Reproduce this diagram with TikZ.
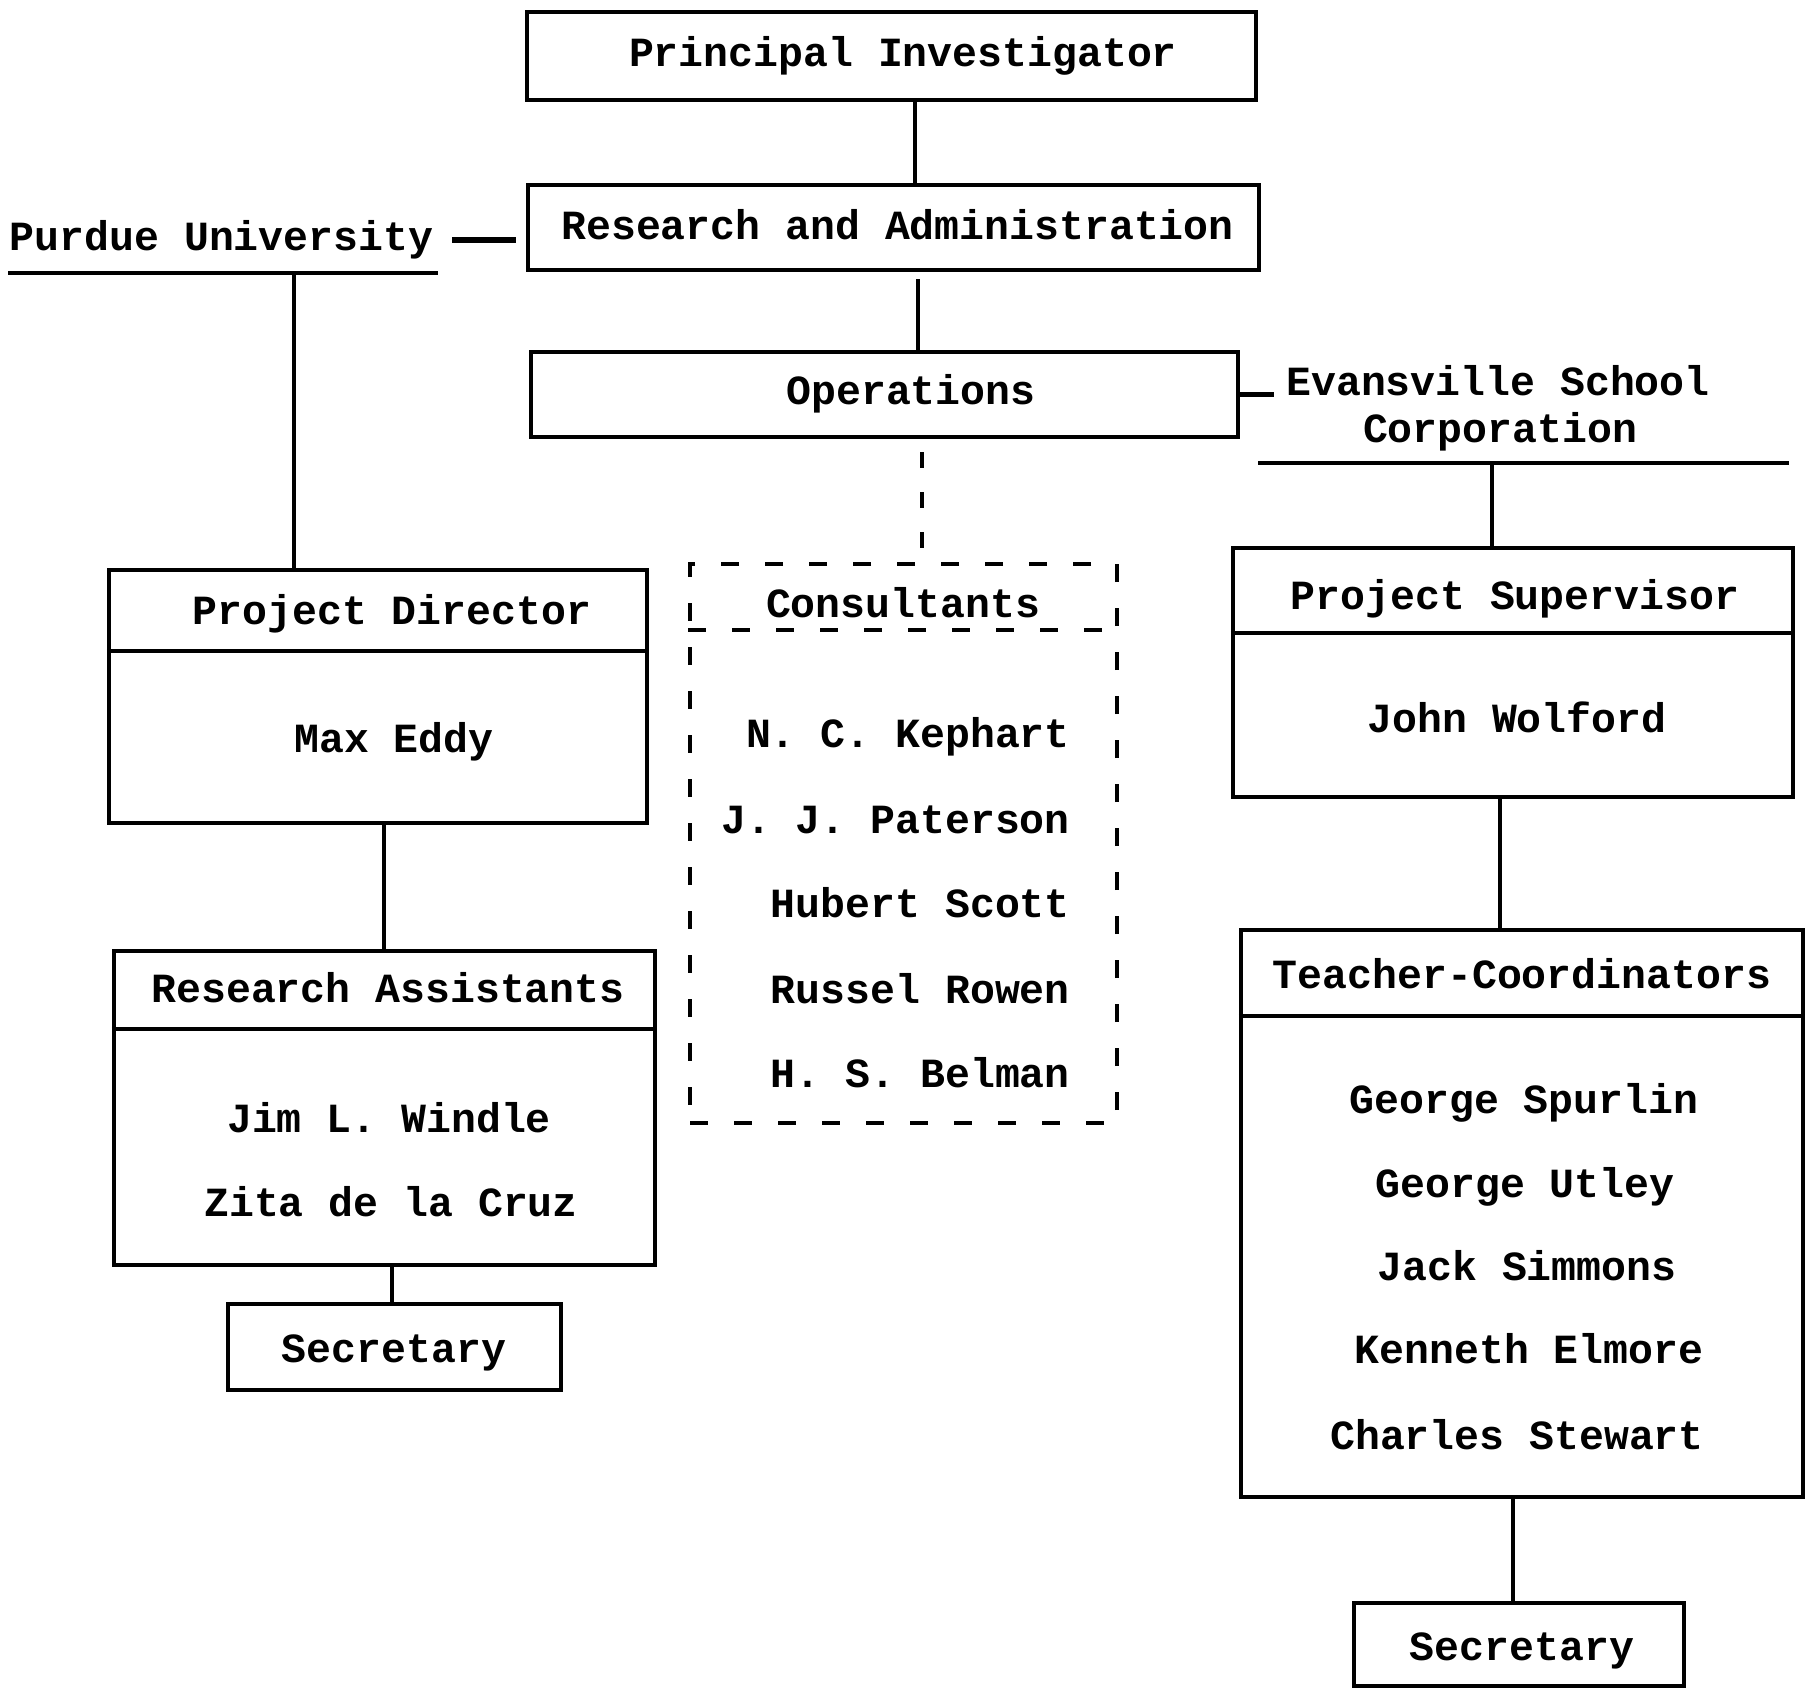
\documentclass[tikz,border=0pt]{standalone}
\usepackage{fontspec}
\newfontfamily\tw{Liberation Mono}
\begin{document}
\begin{tikzpicture}[x=1pt,y=-1pt,
  txt/.style={font=\tw\bfseries\fontsize{41.5}{49}\selectfont, inner sep=0pt, text height=0.6em, text depth=0pt, yshift=-9pt},
  box/.style={draw, line width=4.5pt, inner sep=0pt},
  conn/.style={line width=4pt},
  dconn/.style={line width=4pt, dash pattern=on 16pt off 24pt},
  dbox/.style={draw, line width=4pt, dash pattern=on 18pt off 26pt, inner sep=0pt}]
\fill[white] (0,0) rectangle (1810,1691);
\useasboundingbox (0,0) rectangle (1810,1691);

% top column
\node[box, minimum width=729pt, minimum height=88pt] (pi) at (891.5,56) {};
\node[txt] (pit) at (903,55) {Principal Investigator};
\node[box, minimum width=731pt, minimum height=85pt] (ra) at (893.5,227.5) {};
\node[txt] (rat) at (897.5,227) {Research and Administration};
\node[box, minimum width=707pt, minimum height=85pt] (ops) at (884.5,394.5) {};
\node[txt] (opst) at (911,392) {Operations};

% Purdue
\node[txt] (pu) at (221.5,238) {Purdue University};
\coordinate (pul1) at (8,273);
\coordinate (pul2) at (438,273);
\coordinate (puv) at (294,273);

% Evansville
\node[txt] (ev1) at (1498,383) {Evansville School};
\node[txt] (ev2) at (1500,430) {Corporation};
\coordinate (evl1) at (1258,463);
\coordinate (evl2) at (1789,463);
\coordinate (evv) at (1492,463);

% Project Director
\node[box, minimum width=538pt, minimum height=253pt] (pd) at (378,696.5) {};
\coordinate (pdd) at (0,651);
\node[txt] (pdt) at (392,612) {Project Director};
\node[txt] (pdn) at (394,740) {Max Eddy};

% Research Assistants
\node[box, minimum width=541pt, minimum height=314pt] (rab) at (384.5,1108) {};
\coordinate (rad) at (0,1029);
\node[txt] (rabt) at (388,990) {Research Assistants};
\node[txt] (ran1) at (389,1120) {Jim L. Windle};
\node[txt] (ran2) at (391,1204) {Zita de la Cruz};

% Secretary left
\node[box, minimum width=333pt, minimum height=86pt] (secl) at (394.5,1347) {};
\node[txt] (seclt) at (394,1350) {Secretary};

% Consultants
\node[dbox, minimum width=427pt, minimum height=559pt] (co) at (903.5,843.5) {};
\coordinate (cod) at (0,630);
\node[txt] (cot) at (903,605) {Consultants};
\node[txt, anchor=east] (co1) at (1070,735) {N. C. Kephart};
\node[txt, anchor=east] (co2) at (1070,821) {J. J. Paterson};
\node[txt, anchor=east] (co3) at (1070,905) {Hubert Scott};
\node[txt, anchor=east] (co4) at (1070,991) {Russel Rowen};
\node[txt, anchor=east] (co5) at (1070,1075) {H. S. Belman};

% Project Supervisor
\node[box, minimum width=560pt, minimum height=249pt] (ps) at (1513,672.5) {};
\coordinate (psd) at (0,633);
\node[txt] (pst) at (1515,597) {Project Supervisor};
\node[txt] (psn) at (1517,720) {John Wolford};

% Teacher-Coordinators
\node[box, minimum width=562pt, minimum height=567pt] (tc) at (1522,1213.5) {};
\coordinate (tcd) at (0,1016);
\node[txt] (tct) at (1522,976) {Teacher-Coordinators};
\node[txt] (tc1) at (1524,1101) {George Spurlin};
\node[txt] (tc2) at (1525,1185) {George Utley};
\node[txt] (tc3) at (1527,1268) {Jack Simmons};
\node[txt] (tc4) at (1529,1351) {Kenneth Elmore};
\node[txt] (tc5) at (1517,1437) {Charles Stewart};

% Secretary right
\node[box, minimum width=330pt, minimum height=83pt] (secr) at (1519,1644.5) {};
\node[txt] (secrt) at (1522,1648) {Secretary};

% dividers
\draw[line width=4pt] (pd.west |- pdd) -- (pd.east |- pdd);
\draw[line width=4pt] (rab.west |- rad) -- (rab.east |- rad);
\draw[line width=4pt] (ps.west |- psd) -- (ps.east |- psd);
\draw[line width=4pt] (tc.west |- tcd) -- (tc.east |- tcd);
\draw[line width=4pt, dash pattern=on 18pt off 26pt] (co.west |- cod) -- (co.east |- cod);

% connectors
\draw[conn] ([xshift=23.5pt]pi.south) -- ([xshift=21.5pt]ra.north);
\draw[conn, shorten <=7pt] ([xshift=24.5pt]ra.south) -- ([xshift=33.5pt]ops.north);
\draw[dconn, shorten <=13pt] ([xshift=37.5pt]ops.south) -- ([xshift=18.5pt]co.north);
\draw[line width=5.5pt, shorten <=19pt, shorten >=10pt] ([yshift=7pt]pu.east) -- ([yshift=7pt]pu.east -| ra.west);
\draw[line width=4.5pt] (pul1) -- (pul2);
\draw[conn] (puv) -- (puv |- pd.north);
\draw[line width=4.5pt, shorten >=12pt] (ops.east) -- (ops.east -| ev1.west);
\draw[line width=4.5pt] (evl1) -- (evl2);
\draw[conn] (evv) -- (evv |- ps.north);
\draw[conn] ([xshift=6pt]pd.south) -- ([xshift=-0.5pt]rab.north);
\draw[conn] ([xshift=7.5pt]rab.south) -- ([xshift=-2.5pt]secl.north);
\draw[conn] ([xshift=-13pt]ps.south) -- ([xshift=-22pt]tc.north);
\draw[conn] ([xshift=-9pt]tc.south) -- ([xshift=-6pt]secr.north);
\end{tikzpicture}
\end{document}
